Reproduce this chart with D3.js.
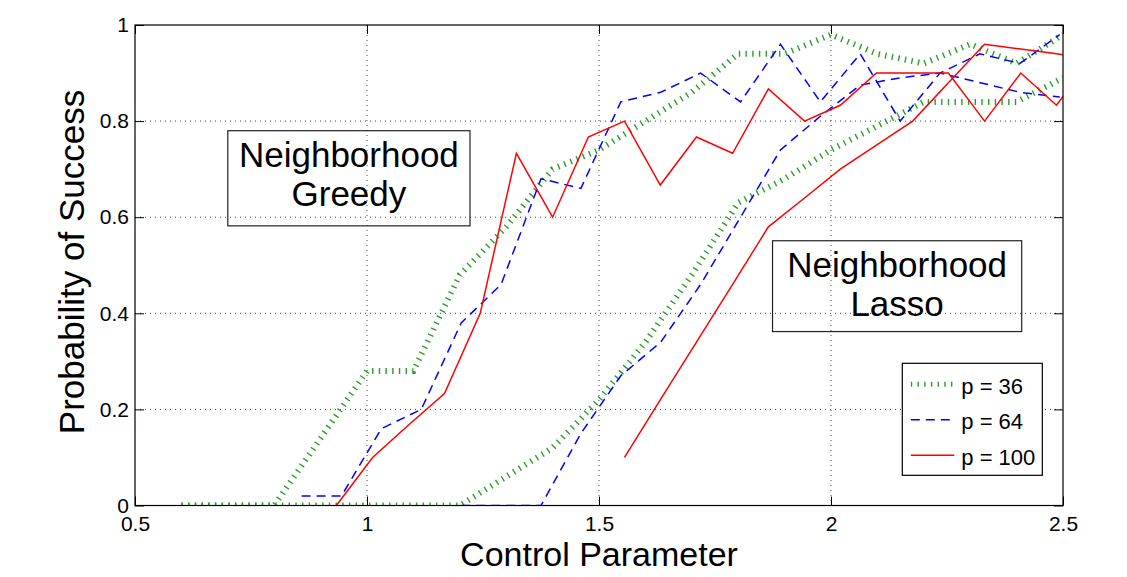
<!DOCTYPE html>
<html>
<head>
<meta charset="utf-8">
<script src="https://cdn.jsdelivr.net/npm/d3@7"></script>
<style>
  body { margin: 0; background: #fff; }
  svg { font-family: "Liberation Sans", Arial, Helvetica, sans-serif; }
</style>
</head>
<body>
<div class="chart"></div>
<script>
// values
var xTicks = [0.5, 1, 1.5, 2, 2.5];
var yTicks = [0, 0.2, 0.4, 0.6, 0.8, 1];

// p = 36 samples
var x36 = [0.6, 0.7, 0.8, 0.9, 1.0, 1.1, 1.2, 1.3, 1.4, 1.5, 1.6, 1.7, 1.8, 1.9, 2.0, 2.1, 2.2, 2.3, 2.4, 2.5];
var greedy36 = [0, 0, 0, 0.14, 0.28, 0.28, 0.48, 0.58, 0.70, 0.74, 0.80, 0.86, 0.94, 0.94, 0.98, 0.94, 0.92, 0.96, 0.92, 0.98];
var lasso36 = [0, 0, 0, 0, 0, 0, 0, 0.06, 0.12, 0.22, 0.34, 0.48, 0.63, 0.68, 0.74, 0.79, 0.84, 0.84, 0.84, 0.89];

// p = 64 samples
var x64 = [0.859, 0.945, 1.031, 1.117, 1.203, 1.289, 1.375, 1.461, 1.547, 1.633, 1.719, 1.805, 1.891, 1.977, 2.063, 2.149, 2.235, 2.321, 2.407, 2.493];
var greedy64 = [0.02, 0.02, 0.16, 0.20, 0.38, 0.46, 0.68, 0.66, 0.84, 0.86, 0.90, 0.84, 0.96, 0.84, 0.94, 0.80, 0.90, 0.94, 0.92, 0.98];
var lasso64 = [null, null, null, null, 0, 0, 0, 0.15, 0.27, 0.34, 0.46, 0.60, 0.74, 0.81, 0.875, 0.89, 0.90, 0.88, 0.86, 0.85];

// p = 100 samples
var x100 = [0.934, 1.012, 1.089, 1.167, 1.244, 1.322, 1.400, 1.477, 1.555, 1.632, 1.710, 1.788, 1.865, 1.943, 2.020, 2.098, 2.176, 2.253, 2.331, 2.409, 2.486, 2.564];
var greedy100 = [0, 0.10, 0.167, 0.233, 0.40, 0.733, 0.60, 0.767, 0.80, 0.667, 0.767, 0.733, 0.867, 0.80, 0.833, 0.90, 0.90, 0.90, 0.80, 0.90, 0.833, 0.933];
var lasso100 = [null, null, null, null, null, null, null, null, 0.10, 0.22, 0.34, 0.46, 0.58, 0.64, 0.70, 0.75, 0.80, 0.88, 0.96, 0.95, 0.94, 0.93];

var legendLabels = ["p = 36", "p = 64", "p = 100"];

// set up the chart
var svgWidth = 1127;
var svgHeight = 577;
var margin = {top: 25, right: 64, bottom: 71.5, left: 135};
var width = svgWidth - margin.left - margin.right;
var height = svgHeight - margin.top - margin.bottom;

var styles = [
  {color: "#2f9a2f", width: 6, dash: "1.4,5.3"},
  {color: "#0000ff", width: 1.5, dash: "9,6"},
  {color: "#ff0000", width: 1.5, dash: null}
];

var svg = d3.select(".chart")
  .append("svg")
  .attr("width", svgWidth)
  .attr("height", svgHeight);

var chartGroup = svg.append("g")
  .attr("transform", `translate(${margin.left}, ${margin.top})`);

var x = d3.scaleLinear().domain([0.5, 2.5]).range([0, width]);
var y = d3.scaleLinear().domain([0, 1]).range([height, 0]);

// grid
chartGroup.append("g")
  .selectAll("line")
  .data(xTicks.slice(1, -1))
  .join("line")
  .attr("x1", d => x(d)).attr("x2", d => x(d))
  .attr("y1", 0).attr("y2", height)
  .attr("stroke", "#444").attr("stroke-width", 1)
  .attr("stroke-dasharray", "1,4");

chartGroup.append("g")
  .selectAll("line")
  .data(yTicks.slice(1, -1))
  .join("line")
  .attr("x1", 0).attr("x2", width)
  .attr("y1", d => y(d)).attr("y2", d => y(d))
  .attr("stroke", "#444").attr("stroke-width", 1)
  .attr("stroke-dasharray", "1,4");

// text boxes (no fill, grid shows through)
var notes = [
  {lines: ["Neighborhood", "Greedy"], x0: 0.700, y0: 0.780, x1: 1.222, y1: 0.582},
  {lines: ["Neighborhood", "Lasso"], x0: 1.874, y0: 0.551, x1: 2.411, y1: 0.362}
];
notes.forEach(function(n) {
  var g = chartGroup.append("g");
  g.append("rect")
    .attr("x", x(n.x0)).attr("y", y(n.y0))
    .attr("width", x(n.x1) - x(n.x0))
    .attr("height", y(n.y1) - y(n.y0))
    .attr("fill", "none").attr("stroke", "#222").attr("stroke-width", 1.2);
  n.lines.forEach(function(t, i) {
    g.append("text")
      .attr("x", (x(n.x0) + x(n.x1)) / 2)
      .attr("y", y(n.y0) + 36 + i * 39)
      .attr("text-anchor", "middle")
      .attr("font-size", 35)
      .attr("fill", "#000")
      .text(t);
  });
});

// lines
svg.append("defs").append("clipPath").attr("id", "plotclip")
  .append("rect").attr("width", width).attr("height", height);

var plotArea = chartGroup.append("g").attr("clip-path", "url(#plotclip)");

var series = [
  {xs: x36, ys: greedy36, s: 0},
  {xs: x36, ys: lasso36, s: 0},
  {xs: x64, ys: greedy64, s: 1},
  {xs: x64, ys: lasso64, s: 1},
  {xs: x100, ys: greedy100, s: 2},
  {xs: x100, ys: lasso100, s: 2}
];

var line = d3.line()
  .defined(d => d[1] !== null)
  .x(d => x(d[0]))
  .y(d => y(d[1]));

series.forEach(function(sr) {
  var pts = sr.xs.map((v, i) => [v, sr.ys[i]]);
  var st = styles[sr.s];
  plotArea.append("path")
    .datum(pts)
    .attr("d", line)
    .attr("fill", "none")
    .attr("stroke", st.color)
    .attr("stroke-width", st.width)
    .attr("stroke-dasharray", st.dash);
});

// axes: ticks point inward on all four sides
var axBottom = chartGroup.append("g")
  .attr("transform", `translate(0, ${height})`)
  .call(d3.axisBottom(x).tickValues(xTicks).tickSize(-9).tickPadding(11)
    .tickFormat(d3.format("")));
var axLeft = chartGroup.append("g")
  .call(d3.axisLeft(y).tickValues(yTicks).tickSize(-9).tickPadding(6)
    .tickFormat(d3.format("")));
var axTop = chartGroup.append("g")
  .call(d3.axisTop(x).tickValues(xTicks).tickSize(-9).tickFormat(""));
var axRight = chartGroup.append("g")
  .attr("transform", `translate(${width}, 0)`)
  .call(d3.axisRight(y).tickValues(yTicks).tickSize(-9).tickFormat(""));

[axBottom, axLeft, axTop, axRight].forEach(function(a) {
  a.select(".domain").remove();
  a.selectAll("line").attr("stroke", "#000").attr("stroke-width", 1);
  a.selectAll("text")
    .attr("font-size", 21)
    .attr("fill", "#000")
    .style("font-family", "\"Liberation Sans\", Arial, sans-serif");
});

chartGroup.append("rect")
  .attr("width", width).attr("height", height)
  .attr("fill", "none").attr("stroke", "#000").attr("stroke-width", 1.2);

// legend
var lg = chartGroup.append("g")
  .attr("transform", `translate(${x(2.1537)}, ${y(0.2959)})`);
lg.append("rect")
  .attr("width", 140).attr("height", 112)
  .attr("fill", "#fff").attr("stroke", "#000").attr("stroke-width", 1.2);
legendLabels.forEach(function(t, i) {
  var st = styles[i];
  var cy = 21 + i * 35.5;
  lg.append("line")
    .attr("x1", 8.5).attr("x2", 52).attr("y1", cy).attr("y2", cy)
    .attr("stroke", st.color)
    .attr("stroke-width", i === 0 ? 5 : 1.5)
    .attr("stroke-dasharray", st.dash);
  lg.append("text")
    .attr("x", 59).attr("y", cy + 9.5)
    .attr("font-size", 22)
    .text(t);
});

// axis labels
svg.append("text")
  .attr("x", margin.left + width / 2)
  .attr("y", 566)
  .attr("text-anchor", "middle")
  .attr("font-size", 34)
  .text("Control Parameter");

svg.append("text")
  .attr("transform", "translate(84, 262) rotate(-90)")
  .attr("text-anchor", "middle")
  .attr("font-size", 35)
  .text("Probability of Success");
</script>
</body>
</html>
